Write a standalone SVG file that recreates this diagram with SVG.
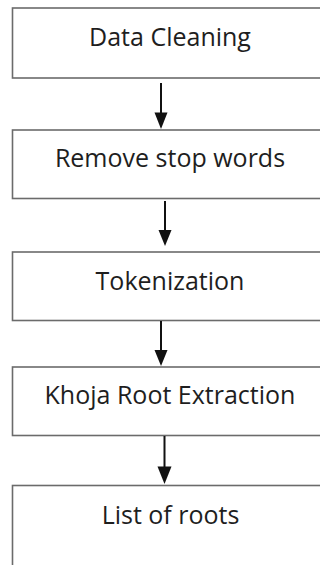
<svg xmlns="http://www.w3.org/2000/svg" width="320" height="565" viewBox="0 0 320 565">
  <style>
    .box { fill: #ffffff; stroke: #6b6b6b; stroke-width: 1.6; }
    .label { font-family: "Open Sans", "Noto Sans", "Liberation Sans", sans-serif; font-size: 25px; fill: #1e1e1e; text-anchor: middle; }
    .flow { stroke: #111111; stroke-width: 2; fill: none; }
    .head { fill: #111111; }
  </style>
  <rect width="320" height="565" fill="#ffffff"/>

  <g id="node-data-cleaning">
    <rect class="box" x="12.5" y="8" width="316" height="70"/>
    <text class="label" x="170" y="45.5">Data Cleaning</text>
  </g>
  <g id="node-remove-stop-words">
    <rect class="box" x="12.5" y="130" width="316" height="68.5"/>
    <text class="label" x="170" y="166.5">Remove stop words</text>
  </g>
  <g id="node-tokenization">
    <rect class="box" x="12.5" y="252" width="316" height="68.5"/>
    <text class="label" x="170" y="289.5">Tokenization</text>
  </g>
  <g id="node-khoja-root-extraction">
    <rect class="box" x="12.5" y="367" width="316" height="68.5"/>
    <text class="label" x="170" y="404">Khoja Root Extraction</text>
  </g>
  <g id="node-list-of-roots">
    <rect class="box" x="12.5" y="485.5" width="316" height="100"/>
    <text class="label" x="170.5" y="523.5">List of roots</text>
  </g>

  <g id="connectors">
    <line class="flow" x1="161" y1="83" x2="161" y2="114"/>
    <polygon class="head" points="154.5,112.5 167.5,112.5 161,129"/>

    <line class="flow" x1="165" y1="201" x2="165" y2="232"/>
    <polygon class="head" points="158.5,230 171.5,230 165,246"/>

    <line class="flow" x1="161" y1="321" x2="161" y2="352"/>
    <polygon class="head" points="154.5,350 167.5,350 161,366"/>

    <line class="flow" x1="164.5" y1="436" x2="164.5" y2="468"/>
    <polygon class="head" points="157.5,466.5 171.5,466.5 164.5,484"/>
  </g>
</svg>
